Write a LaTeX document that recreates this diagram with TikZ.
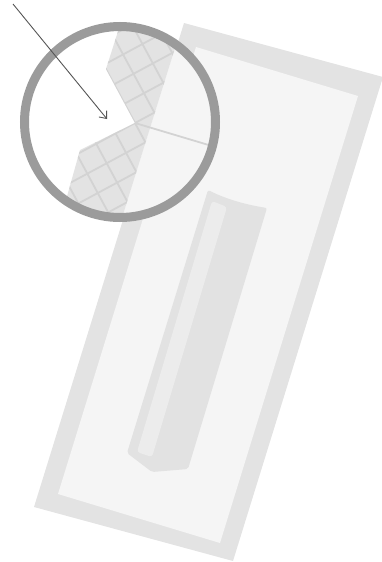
\documentclass[tikz,border=0pt]{standalone}
\usetikzlibrary{arrows.meta}

\definecolor{padedge}{HTML}{E3E3E3}
\definecolor{padface}{HTML}{F5F5F5}
\definecolor{handle}{HTML}{E2E2E2}
\definecolor{handlelit}{HTML}{ECECEC}
\definecolor{meshbg}{HTML}{E3E3E3}
\definecolor{meshline}{HTML}{D3D3D3}
\definecolor{ring}{HTML}{9B9B9B}
\definecolor{pointer}{HTML}{555555}

\begin{document}
\begin{tikzpicture}[x=1pt,y=-1pt,
  mesh/.style={meshline,line width=1.8pt},
  pointer/.style={draw=pointer,line width=0.9pt,-{Straight Barb[length=6pt,width=10pt]}}]

\useasboundingbox (0,0) rectangle (382,562);

% the pad: border and face
\fill[padedge] (184,23) -- (383,77) -- (233,561) -- (34,507) -- cycle;
\fill[padface] (196,47) -- (358,96) -- (220,543) -- (58,494) -- cycle;

% handle with its lit side
\fill[handle,rounded corners=2pt] (208,190) .. controls (228,200) and (248,205) .. (267,208)
  -- (188,469) -- (152,472) -- (127,453) -- cycle;
\fill[handlelit,rounded corners=3pt] (212,201) -- (227,207) -- (152,457) -- (137,452) -- cycle;

% magnified edge
\coordinate (lens) at (120,122);
\coordinate (notch) at (135,123);
\coordinate (rim) at (222,149);
\fill[white] (lens) circle[radius=96];
\begin{scope}
  \clip (lens) circle[radius=96];
  \fill[padface] (190,0) -- (240,0) -- (240,250) -- (112,250) -- cycle;
  \begin{scope}
    \clip (128,0) -- (106,69) -- (notch) -- (80,150) -- (52,250) -- (112,250) -- (190,0) -- cycle;
    \fill[meshbg] (0,0) rectangle (240,260);
    \draw[mesh,shift={(135,123)},rotate=28.3] (-220,220) grid[step=22pt] (220,-220);
  \end{scope}
  \draw[mesh] (notch) -- (rim);
\end{scope}
\draw[ring,line width=9pt] (lens) circle[radius=95.5];

% pointer into the notch
\coordinate (tail) at (13,4);
\coordinate (aim) at (107,119);
\draw[pointer] (tail) -- (aim);

\end{tikzpicture}
\end{document}
